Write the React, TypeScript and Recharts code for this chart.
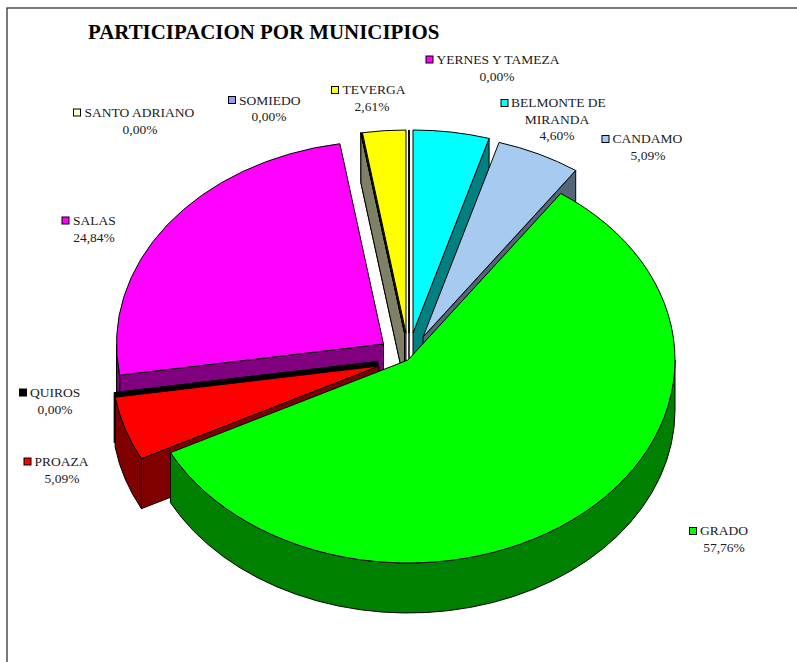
import { PieChart, Pie } from "recharts";

const municipios = [
  "YERNES Y TAMEZA",
  "BELMONTE DE MIRANDA",
  "CANDAMO",
  "GRADO",
  "PROAZA",
  "QUIROS",
  "SALAS",
  "SANTO ADRIANO",
  "SOMIEDO",
  "TEVERGA",
];
const participacion = [0, 4.6, 5.09, 57.76, 5.09, 0, 24.84, 0, 0, 2.61];
const etiquetas = ["0,00%", "4,60%", "5,09%", "57,76%", "5,09%", "0,00%", "24,84%", "0,00%", "0,00%", "2,61%"];

const topColors = ["#FF00FF", "#00FFFF", "#A6CAF0", "#00FF00", "#FF0000", "#000000", "#FF00FF", "#FFFFCC", "#9999FF", "#FFFF00"];
const wallColors = ["#800080", "#008080", "#536578", "#008000", "#800000", "#000000", "#800080", "#808066", "#4C4C80", "#808000"];

// explosion of each slice, relative to the pie centre
const explodeX = [1, 5, 15, 0, -29, -30, -24.5, -3.5, -3.5, -2];
const explodeY = [-27, -27, -23, 0, 6, 1.5, -16, -27, -27, -27];

// back to front
const drawOrder = [
  "TEVERGA",
  "SOMIEDO",
  "SANTO ADRIANO",
  "YERNES Y TAMEZA",
  "BELMONTE DE MIRANDA",
  "CANDAMO",
  "SALAS",
  "QUIROS",
  "PROAZA",
  "GRADO",
];

// [marker x, marker y, text x, first baseline, centre x of the following lines]
const labelPos = [
  [426, 56, 436.5, 64, 497],
  [501, 99.5, 511, 107, 557],
  [602, 135.5, 612.5, 143, 648],
  [689.5, 527.5, 700, 535, 724],
  [24, 458, 34.5, 466, 62],
  [19.5, 389, 30, 397, 55],
  [62, 217, 73, 225, 94],
  [73.5, 109, 84.5, 117, 140],
  [228.5, 96.5, 239, 104.5, 269],
  [331.5, 86.5, 342.5, 94, 372],
];
const labelExtraLine: Record<string, string[]> = {
  "BELMONTE DE MIRANDA": ["BELMONTE DE", "MIRANDA"],
};

const data = municipios.map((name, i) => ({ name, value: participacion[i] }));

const SQUASH = 203 / 267;
const DEPTH = 50;

function Slice3D(props: any) {
  const { cx, cy, outerRadius: rx, startAngle, endAngle, name } = props;
  const i = municipios.indexOf(name);
  const ry = rx * SQUASH;
  const ax = cx + explodeX[i];
  const ay = cy + explodeY[i];
  // angles clockwise from the top
  const t1 = 90 - startAngle;
  const t2 = 90 - endAngle;
  const pt = (t: number) => {
    const r = (t * Math.PI) / 180;
    return [ax + rx * Math.sin(r), ay - ry * Math.cos(r)];
  };
  const [x1, y1] = pt(t1);
  const [x2, y2] = pt(t2);
  const large = t2 - t1 > 180 ? 1 : 0;
  const face = (x: number, y: number) =>
    `M${ax},${ay} L${x},${y} L${x},${y + DEPTH} L${ax},${ay + DEPTH} Z`;
  const sin = (t: number) => Math.sin((t * Math.PI) / 180);

  // rim is only visible on the front half
  const r1 = Math.max(t1, 90);
  const r2 = Math.min(t2, 270);
  let rim = null;
  if (r2 > r1) {
    const [a, b] = pt(r1);
    const [c, d] = pt(r2);
    rim = (
      <path
        d={`M${a},${b} A${rx},${ry} 0 0 1 ${c},${d} L${c},${d + DEPTH} A${rx},${ry} 0 0 0 ${a},${b + DEPTH} Z`}
        fill={wallColors[i]}
        stroke="#000"
      />
    );
  }

  return (
    <g>
      {(sin(t1) < 0 || t1 === t2) && <path d={face(x1, y1)} fill={wallColors[i]} stroke="#000" />}
      {sin(t2) > 0.001 && <path d={face(x2, y2)} fill={wallColors[i]} stroke="#000" />}
      {rim}
      <path
        d={`M${ax},${ay} L${x1},${y1} A${rx},${ry} 0 ${large} 1 ${x2},${y2} Z`}
        fill={topColors[i]}
        stroke="#000"
      />
    </g>
  );
}

function SliceLabel({ index }: { index: number }) {
  const name = municipios[index];
  const [mx, my, tx, base, center] = labelPos[index];
  const lines = labelExtraLine[name] ?? [name];
  const rest = [...lines.slice(1), etiquetas[index]];
  return (
    <g fontFamily="'Liberation Serif', serif" fontSize={13.5} fill="#1a1a1a">
      <rect x={mx} y={my} width={7} height={7} fill={topColors[index]} stroke="#000" strokeWidth={1} />
      <text x={tx} y={base}>{lines[0]}</text>
      {rest.map((line, k) => (
        <text key={line} x={center} y={base + 16.7 * (k + 1)} textAnchor="middle">
          {line}
        </text>
      ))}
    </g>
  );
}

export default function App() {
  return (
    <div style={{ position: "absolute", left: 0, top: 0, width: 797, height: 662, background: "#fff" }}>
      <PieChart width={797} height={662} margin={{ top: 0, right: 0, bottom: 0, left: 0 }}>
        <rect x={7} y={8} width={800} height={670} fill="#fff" stroke="#222" strokeWidth={1.2} />
        {drawOrder.map((layer) => (
          <Pie
            key={layer}
            data={data}
            dataKey="value"
            nameKey="name"
            cx={408}
            cy={360}
            innerRadius={0}
            outerRadius={267}
            startAngle={90}
            endAngle={-270}
            paddingAngle={0}
            isAnimationActive={false}
            legendType="none"
            shape={(props: any) => (props.name === layer ? <Slice3D {...props} /> : <g />)}
          />
        ))}
        <text x={88} y={39} fontFamily="'Liberation Serif', serif" fontWeight="bold" fontSize={20.9} fill="#000">
          PARTICIPACION POR MUNICIPIOS
        </text>
        {municipios.map((name, i) => (
          <SliceLabel key={name} index={i} />
        ))}
      </PieChart>
    </div>
  );
}
